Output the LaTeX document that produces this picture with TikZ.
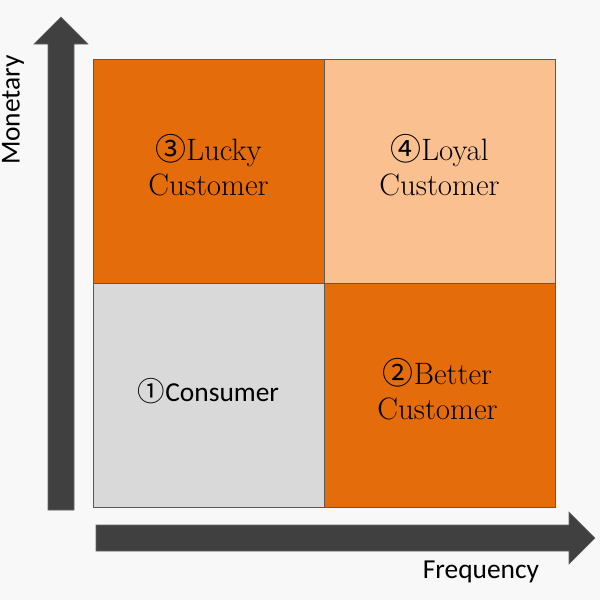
\documentclass[tikz,border=0pt]{standalone}
\usepackage{fontspec}
\setsansfont{Carlito}
\newfontfamily\circfont{Noto Sans CJK JP}
\usepackage{tikz}
\usetikzlibrary{positioning}
\definecolor{rfmorange}{HTML}{E46C0A}
\definecolor{rfmpeach}{HTML}{FAC090}
\definecolor{rfmgrey}{HTML}{D9D9D9}
\definecolor{rfmaxis}{HTML}{404040}
\definecolor{rfmback}{HTML}{F8F8F8}
\newcommand{\circnum}[1]{{\circfont #1}}
\tikzset{
    rfmquad/.style={draw=black!65, line width=0.6pt, minimum width=5.775cm, minimum height=5.6cm, inner sep=0pt},
    rfmserif/.style={align=center, font=\fontsize{22}{25}\selectfont},
    rfmsans/.style={font=\sffamily\fontsize{19.5}{24}\selectfont},
    rfmaxisarrow/.style={fill=rfmaxis, draw=rfmaxis!80, line width=0.4pt}
}
\begin{document}
\begin{tikzpicture}[x=0.025cm, y=-0.025cm]
        \fill[rfmback] (0,0) rectangle (600,600);
        \useasboundingbox (0,0) rectangle (600,600);

        % quadrants
        \node[rfmquad, fill=rfmorange] (lucky) at (208.5,171.5) {};
        \node[rfmquad, fill=rfmpeach] (loyal) at (439.5,171.5) {};
        \node[rfmquad, fill=rfmgrey] (consumer) at (208.5,395.5) {};
        \node[rfmquad, fill=rfmorange] (better) at (439.5,395.5) {};

        \node[rfmserif] (luckytext) at ([yshift=0.16cm]lucky.center) {\circnum{③}Lucky\\Customer};
        \node[rfmserif] (loyaltext) at ([yshift=0.16cm]loyal.center) {\circnum{④}Loyal\\Customer};
        \node[rfmsans] (consumertext) at ([yshift=0.12cm]consumer.center) {\circnum{①}Consumer};
        \node[rfmserif] (bettertext) at ([yshift=0.16cm,xshift=-0.05cm]better.center) {\circnum{②}Better\\Customer};

        % axes
        \filldraw[rfmaxisarrow] (48,510) -- (48,44) -- (34,44) -- (61,17) -- (88,44) -- (74,44) -- (74,510) -- cycle;
        \filldraw[rfmaxisarrow] (96,525) -- (569,525) -- (569,512) -- (595,538) -- (569,564) -- (569,551) -- (96,551) -- cycle;

        \node[rfmsans, rotate=90] (monetary) at (13,110) {Monetary};
        \node[rfmsans] (frequency) at (481,572) {Frequency};
    \end{tikzpicture}
\end{document}
